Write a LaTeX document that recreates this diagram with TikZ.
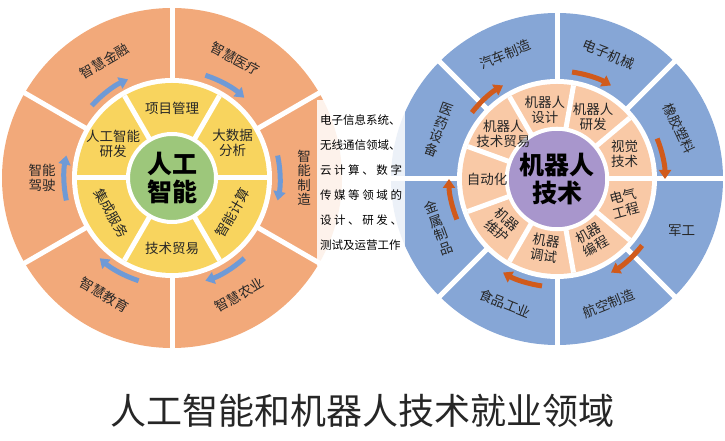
\documentclass[tikz,border=0pt]{standalone}
\usepackage{fontspec}
\setmainfont{Noto Sans CJK SC}
\usetikzlibrary{arrows.meta,calc}
\definecolor{outerL}{HTML}{F2A97A}
\definecolor{innerL}{HTML}{F8D45E}
\definecolor{coreL}{HTML}{9DC77B}
\definecolor{outerR}{HTML}{86A6D6}
\definecolor{innerR}{HTML}{F9C9A6}
\definecolor{coreR}{HTML}{A896CC}
\definecolor{arrL}{HTML}{6F9AD6}
\definecolor{arrR}{HTML}{D15A1B}
\tikzset{
  lbl/.style={font=\fontsize{13.5}{15}\selectfont, align=center, inner sep=1pt, text=black!85},
  vlbl/.style={lbl, font=\fontsize{13.5}{14.5}\selectfont},
  core/.style={circle, font=\bfseries\fontsize{25}{28}\selectfont, align=center, text=black},
  gap/.style={white, line width=5pt},
  flow/.style={line width=5pt, -{Triangle[length=9pt,width=12pt]}}
}
\begin{document}
\begin{tikzpicture}[x=1pt,y=1pt]
  \useasboundingbox (0,0) rectangle (725,441);
  \coordinate (L) at (172,263);
  \coordinate (R) at (557,262);
  % left circle
  \fill[outerL] (L) circle (170);
  \foreach \a in {30,90,...,330} \draw[gap] (L) -- ++(\a:172);
  \fill[white] (L) circle (100);
  \fill[innerL] (L) circle (95);
  \foreach \a in {0,60,...,300} \draw[gap] (L) -- ++(\a:95);
  \node[core, fill=coreL, draw=white, line width=4pt, minimum size=88pt] (ai) at (L) {人工\\智能};
  % right circle
  \fill[outerR] (R) circle (166);
  \foreach \a in {0,45,...,315} \draw[gap] (R) -- ++(\a:168);
  \fill[white] (R) circle (100);
  \fill[innerR] (R) circle (95);
  \foreach \a in {0,40,...,320} \draw[gap] (R) -- ++(\a+160:95);
  \node[core, fill=coreR, draw=white, line width=4pt, minimum size=88pt] (rb) at (R) {机器人\\技术};
  % left labels
  \node[lbl, rotate=-28] (l1) at ($(L)+(62:135)$) {智慧医疗};
  \node[lbl, rotate=30] (l2) at ($(L)+(120:135)$) {智慧金融};
  \node[lbl] (l3) at ($(L)+(180:130)$) {智能\\驾驶};
  \node[lbl, rotate=-30] (l4) at ($(L)+(240:135)$) {智慧教育};
  \node[lbl, rotate=30] (l5) at ($(L)+(300:135)$) {智慧农业};
  \node[vlbl] (l6) at ($(L)+(0:132)$) {智\\能\\制\\造};
  \node[lbl] (m1) at ($(L)+(90:70)$) {项目管理};
  \node[lbl] (m2) at ($(L)+(30:70)$) {大数据\\分析};
  \node[lbl, rotate=60] (m3) at ($(L)+(-30:70)$) {智能计算};
  \node[lbl] (m4) at ($(L)+(-90:70)$) {技术贸易};
  \node[lbl, rotate=-60] (m5) at ($(L)+(-150:70)$) {集成服务};
  \node[lbl] (m6) at ($(L)+(150:68)$) {人工智能\\研发};
  % left arrows
  \foreach \a in {138,72,12,-48,-108,-168}
    \draw[flow, arrL] ($(L)+(\a:108)$) arc (\a:\a-24:108);
  % right labels
  \node[lbl, rotate=22] (r1) at ($(R)+(112.5:135)$) {汽车制造};
  \node[lbl, rotate=-22] (r2) at ($(R)+(67.5:135)$) {电子机械};
  \node[lbl, rotate=-65] (r3) at ($(R)+(22.5:132)$) {橡胶塑料};
  \node[lbl] (r4) at ($(R)+(-22.5:135)$) {军工};
  \node[lbl, rotate=22] (r5) at ($(R)+(-67.5:135)$) {航空制造};
  \node[lbl, rotate=-22] (r6) at ($(R)+(-112.5:135)$) {食品工业};
  \node[vlbl, rotate=20] (r7) at ($(R)+(-157.5:128)$) {金\\属\\制\\品};
  \node[vlbl, rotate=-20] (r8) at ($(R)+(157.5:128)$) {医\\药\\设\\备};
  \node[lbl] (n1) at ($(R)+(100:70)$) {机器人\\设计};
  \node[lbl] (n2) at ($(R)+(60:72)$) {机器人\\研发};
  \node[lbl] (n3) at ($(R)+(20:72)$) {视觉\\技术};
  \node[lbl, rotate=15] (n4) at ($(R)+(-20:72)$) {电气\\工程};
  \node[lbl, rotate=30] (n5) at ($(R)+(-60:70)$) {机器\\编程};
  \node[lbl, rotate=-10] (n6) at ($(R)+(-100:70)$) {机器\\调试};
  \node[lbl, rotate=-40] (n7) at ($(R)+(-140:72)$) {机器\\维护};
  \node[lbl] (n8) at ($(R)+(180:70)$) {自动化};
  \node[lbl] (n9) at ($(R)+(140:70)$) {机器人\\技术贸易};
  % right arrows
  \foreach \a in {142,82,22,-38,-98,-158}
    \draw[flow, arrR] ($(R)+(\a:108)$) arc (\a:\a-22:108);
  % text box
  \node[fill=white, fill opacity=0.85, text opacity=1, minimum width=88pt, minimum height=166pt,
        text width=82pt, font=\fontsize{11.5}{25}\selectfont, align=justify, inner sep=3pt] (box) at (361,258)
    {电子信息系统、\\无线通信领域、\\云\hfill 计\hfill 算\hfill 、\hfill 数\hfill 字\\传\hfill 媒\hfill 等\hfill 领\hfill 域\hfill 的\\设\hfill 计\hfill 、\hfill 研\hfill 发\hfill 、\\测试及运营工作};
  % title
  \node[font=\fontsize{36}{40}\selectfont, text=black!85] (title) at (362,30) {人工智能和机器人技术就业领域};
\end{tikzpicture}
\end{document}
